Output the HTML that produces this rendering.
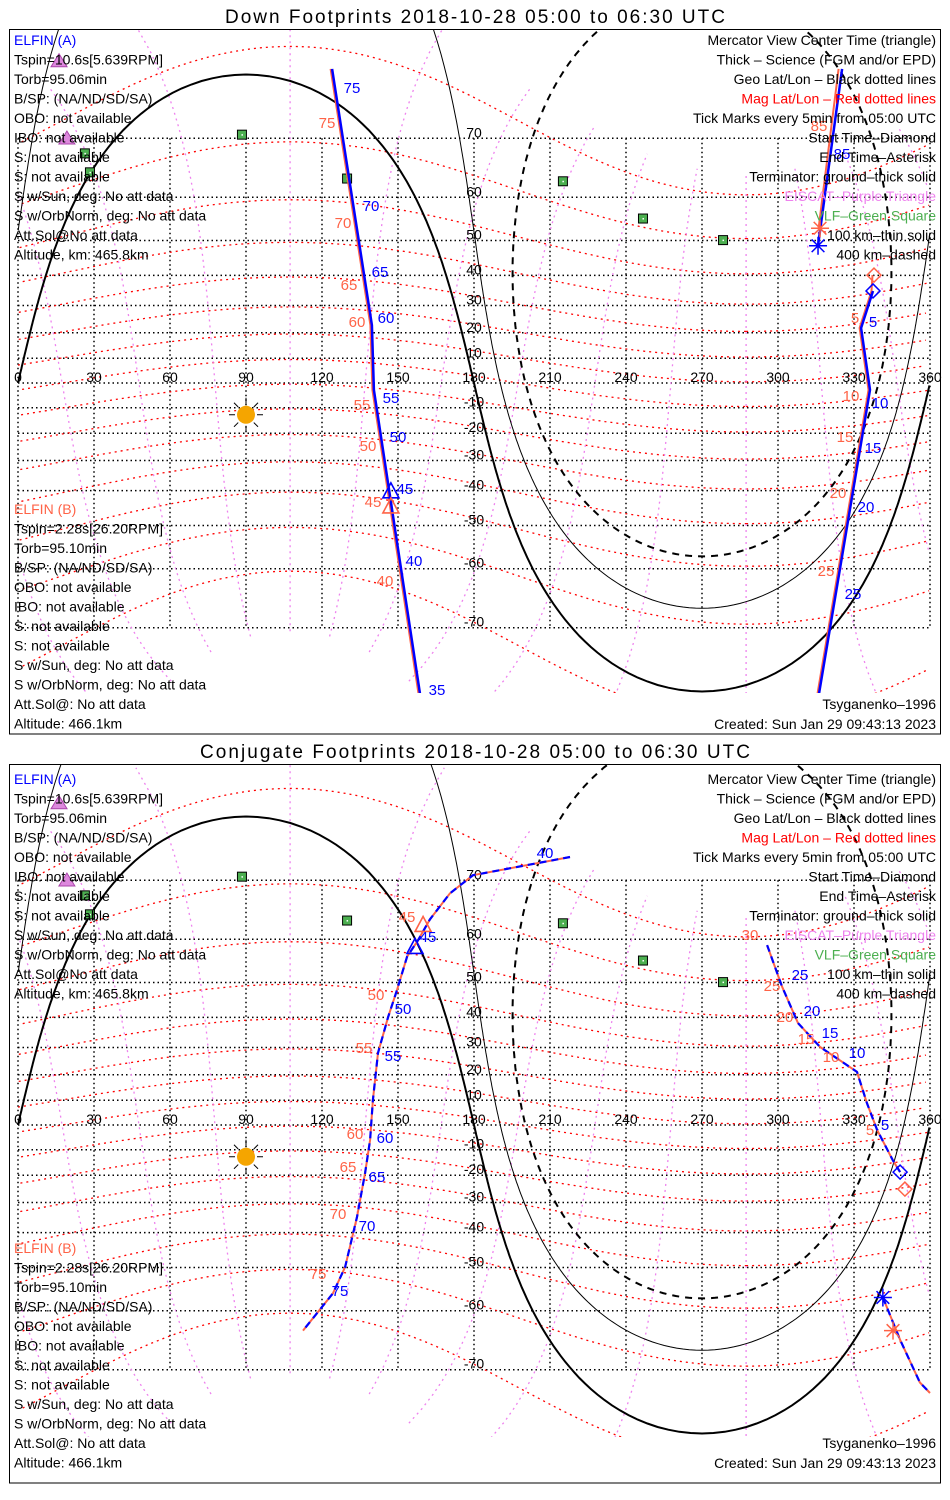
<!DOCTYPE html>
<html><head><meta charset="utf-8">
<style>
html,body{margin:0;padding:0;background:#fff;overflow:hidden;width:950px;height:1500px;}
svg{display:block;font-family:"Liberation Sans",sans-serif;}
</style></head>
<body>
<svg id="chart" width="950" height="1500" viewBox="0 0 950 1500" xmlns="http://www.w3.org/2000/svg">
<rect width="950" height="1500" fill="#fff"/>
<defs>
<clipPath id="clipTop"><rect x="10" y="30" width="930" height="663"/></clipPath>
<clipPath id="clipBot"><rect x="10" y="765" width="930" height="672"/></clipPath>
</defs>
<text x="475" y="23" text-anchor="middle" font-size="19" textLength="500">Down Footprints 2018-10-28 05:00 to 06:30 UTC</text>
<rect x="9.5" y="29.5" width="931" height="704.5" fill="none" stroke="#000" stroke-width="1"/>
<text x="475" y="758" text-anchor="middle" font-size="19" textLength="550">Conjugate Footprints 2018-10-28 05:00 to 06:30 UTC</text>
<rect x="9.5" y="764.5" width="931" height="718.5" fill="none" stroke="#000" stroke-width="1"/>
<g id="pTop"></g>
<g id="pBot"></g>
<g id="labels" font-size="15">
<g fill="#0000ff">
<text x="352" y="93" text-anchor="middle">75</text><text x="371" y="211" text-anchor="middle">70</text><text x="380" y="277" text-anchor="middle">65</text><text x="386" y="323" text-anchor="middle">60</text><text x="391" y="403" text-anchor="middle">55</text><text x="398" y="442" text-anchor="middle">50</text><text x="405" y="494" text-anchor="middle">45</text><text x="414" y="566" text-anchor="middle">40</text><text x="437" y="695" text-anchor="middle">35</text>
<text x="842" y="159" text-anchor="middle">85</text><text x="873" y="327" text-anchor="middle">5</text><text x="880" y="408" text-anchor="middle">10</text><text x="873" y="453" text-anchor="middle">15</text><text x="866" y="512" text-anchor="middle">20</text><text x="853" y="599" text-anchor="middle">25</text>
</g>
<g fill="#ff6347">
<text x="327" y="128" text-anchor="middle">75</text><text x="343" y="228" text-anchor="middle">70</text><text x="349" y="290" text-anchor="middle">65</text><text x="357" y="327" text-anchor="middle">60</text><text x="362" y="410" text-anchor="middle">55</text><text x="368" y="451" text-anchor="middle">50</text><text x="373" y="507" text-anchor="middle">45</text><text x="385" y="586" text-anchor="middle">40</text>
<text x="819" y="131" text-anchor="middle">85</text><text x="855" y="323" text-anchor="middle">5</text><text x="851" y="401" text-anchor="middle">10</text><text x="845" y="442" text-anchor="middle">15</text><text x="838" y="498" text-anchor="middle">20</text><text x="826" y="576" text-anchor="middle">25</text>
</g>
<g fill="#0000ff">
<text x="545" y="858" text-anchor="middle">40</text><text x="428" y="942" text-anchor="middle">45</text><text x="403" y="1014" text-anchor="middle">50</text><text x="393" y="1061" text-anchor="middle">55</text><text x="385" y="1143" text-anchor="middle">60</text><text x="377" y="1182" text-anchor="middle">65</text><text x="367" y="1231" text-anchor="middle">70</text><text x="340" y="1296" text-anchor="middle">75</text>
<text x="800" y="980" text-anchor="middle">25</text><text x="812" y="1016" text-anchor="middle">20</text><text x="830" y="1038" text-anchor="middle">15</text><text x="857" y="1058" text-anchor="middle">10</text><text x="885" y="1130" text-anchor="middle">5</text>
</g>
<g fill="#ff6347">
<text x="407" y="922" text-anchor="middle">45</text><text x="376" y="1000" text-anchor="middle">50</text><text x="364" y="1053" text-anchor="middle">55</text><text x="355" y="1139" text-anchor="middle">60</text><text x="348" y="1172" text-anchor="middle">65</text><text x="338" y="1219" text-anchor="middle">70</text><text x="318" y="1279" text-anchor="middle">75</text>
<text x="750" y="940" text-anchor="middle">30</text><text x="772" y="991" text-anchor="middle">25</text><text x="785" y="1022" text-anchor="middle">20</text><text x="806" y="1044" text-anchor="middle">15</text><text x="831" y="1062" text-anchor="middle">10</text><text x="870" y="1135" text-anchor="middle">5</text>
</g>
</g>
<g id="infoTop"></g>
<g id="infoBot"></g>
</svg>
<script>
const latTicks = [-70,-60,-50,-40,-30,-20,-10,0,10,20,30,40,50,60,70];
const lonTicks = [0,30,60,90,120,150,180,210,240,270,300,330,360];
const subsolarLon = 90, subsolarLat = -12.8;
const terminatorAltKm = [0, 100, 400];
const magPoleLat = 80.5, magPoleLon = 287.4;
const magLatLines = [-70,-60,-50,-40,-30,-20,-10,0,10,20,30,40,50,60,70];
const magLonLines = [0,30,60,90,120,150,180,210,240,270,300,330];
const vlfLon = [88.4,26.4,28.4,129.9,215.1,246.7,278.3];
const vlfLat = [70.5,67.8,64.7,63.6,63.1,55.4,50.1];
const eiscatLon = [16.2,19.3];
const eiscatLat = [78.3,69.9];
const downA1Lon = [124.0,139.7,140.5,158.7];
const downA1Lat = [77.7,22.9,-2.8,-77.4];
const downA2Lon = [325.3,315.8];
const downA2Lat = [77.7,48.6];
const downA3Lon = [337.5,332.8,336.3,316.2];
const downA3Lat = [35.0,21.8,-2.8,-77.4];
const downB2Lon = [324.5,316.6];
const downB2Lat = [77.7,53.1];
const downB3Lon = [337.9,337.5,332.8,336.3,316.2];
const downB3Lat = [40.1,35.0,21.8,-2.8,-77.4];
const downTriA = [147.2,-40.4], downTriB = [147.2,-44.9];
const downEndA = [315.8,48.6], downEndB = [316.6,53.1];
const downStartA = [337.5,35.0], downStartB = [337.9,40.1];
const conjW_Lon = [217.9,204.1,179.6,170.5,162.6,157.9,153.6,149.6,146.1,142.1,140.1,139.0,137.0,133.8,129.1,124.3,112.5];
const conjW_Lat = [73.0,72.2,70.7,68.1,63.8,59.8,56.3,48.0,40.1,28.1,10.1,-6.1,-19.1,-35.0,-49.9,-56.3,-63.8];
const conjE_Lon = [295.7,301.6,307.9,316.6,328.4,331.2,335.1,339.1,345.4,348.2];
const conjE_Lat = [58.8,48.9,38.2,30.2,22.9,21.1,8.9,-2.0,-14.3,-18.8];
const conjS_Lon = [341.4,348.2,356.0,360.0];
const conjS_Lat = [-57.2,-65.4,-71.7,-73.0];
const conjTriA = [156.7,58.3], conjTriB = [159.9,62.7];
const conjStartA = [348.2,-18.8], conjStartB = [350.1,-25.2];
const conjEndA = [341.4,-57.2], conjEndB = [345.4,-63.8];

const NS = "http://www.w3.org/2000/svg";
const D = Math.PI/180;
function el(tag, attrs, parent){ const e=document.createElementNS(NS,tag); for(const k in attrs) e.setAttribute(k,attrs[k]); parent.appendChild(e); return e; }
function X(lon){ return 18 + lon*912/360; }
function makeY(y0){ return function(lat){ lat=Math.max(-86,Math.min(86,lat)); return y0 - 141*Math.log(Math.tan(Math.PI/4 + lat*D/2)); }; }
function pathD(lons, lats, Y){
  let d=""; for(let i=0;i<lons.length;i++){
    const cmd = (i===0 || Math.abs(lons[i]-lons[i-1])>180) ? "M" : "L";
    d += cmd + X(lons[i]).toFixed(1) + "," + Y(lats[i]).toFixed(1) + " ";
  } return d;
}
function norm(l){ l=l%360; if(l<0) l+=360; return l; }
function mag2geo(mlat, mlon){
  const th=(90-magPoleLat)*D, lp=magPoleLon*D;
  const x=Math.cos(mlat*D)*Math.cos(mlon*D), y=Math.cos(mlat*D)*Math.sin(mlon*D), z=Math.sin(mlat*D);
  const x1=x*Math.cos(th)+z*Math.sin(th), z1=-x*Math.sin(th)+z*Math.cos(th), y1=y;
  const x2=x1*Math.cos(lp)-y1*Math.sin(lp), y2=x1*Math.sin(lp)+y1*Math.cos(lp);
  return [norm(Math.atan2(y2,x2)/D), Math.asin(Math.max(-1,Math.min(1,z1)))/D];
}
function smallCircle(cLon, cLat, r){
  const lons=[], lats=[]; const p1=cLat*D, l1=cLon*D, dd=r*D;
  for(let b=0;b<=360;b+=1){
    const t=b*D;
    const p2=Math.asin(Math.sin(p1)*Math.cos(dd)+Math.cos(p1)*Math.sin(dd)*Math.cos(t));
    const l2=l1+Math.atan2(Math.sin(t)*Math.sin(dd)*Math.cos(p1), Math.cos(dd)-Math.sin(p1)*Math.sin(p2));
    lons.push(norm(l2/D)); lats.push(p2/D);
  } return [lons,lats];
}
function asterisk(g,x,y,c,s){ let d=""; for(let a=0;a<180;a+=45){ const dx=s*Math.cos(a*D), dy=s*Math.sin(a*D); d+=`M${x-dx},${y-dy}L${x+dx},${y+dy}`; } return el("path",{d:d,stroke:c,"stroke-width":1.5,fill:"none"},g); }
function diamond(g,x,y,c){ return el("path",{d:`M${x},${y-7}L${x+7},${y}L${x},${y+7}L${x-7},${y}Z`,stroke:c,"stroke-width":1.5,fill:"none"},g); }
function triangle(g,x,y,c){ return el("path",{d:`M${x},${y-9}L${x+8},${y+6}L${x-8},${y+6}Z`,stroke:c,"stroke-width":1.6,fill:"none"},g); }

function drawPanel(g, y0, clipId, conj){
  const Y = makeY(y0);
  const m = el("g",{"clip-path":"url(#"+clipId+")"},g);
  for(const lat of latTicks){
    const l=el("line",{x1:X(0),x2:X(360),y1:Y(lat),y2:Y(lat),stroke:"#000","stroke-width":1.5,"stroke-dasharray":"1.5,3"},m);
    
    
  }
  for(const lon of lonTicks){
    const l=el("line",{x1:X(lon),x2:X(lon),y1:Y(70),y2:Y(-70),stroke:"#000","stroke-width":1.5,"stroke-dasharray":"1.5,3"},m);
    
    
  }
  for(const ml of magLatLines){
    const lo=[],la=[]; for(let k=0;k<=360;k+=2){ const p=mag2geo(ml,k); lo.push(p[0]); la.push(p[1]); }
    const p=el("path",{d:pathD(lo,la,Y),stroke:"#ff0000","stroke-width":1.3,fill:"none","stroke-dasharray":"2,4"},m);
    
    
  }
  for(const mo of magLonLines){
    const lo=[],la=[]; for(let k=-80;k<=75;k+=2){ const q=mag2geo(k,mo); lo.push(q[0]); la.push(q[1]); }
    const p=el("path",{d:pathD(lo,la,Y),stroke:"#ee82ee","stroke-width":1.3,fill:"none","stroke-dasharray":"2,4"},m);
    
    
  }
  const anLon = norm(subsolarLon+180), anLat = -subsolarLat;
  terminatorAltKm.forEach((h)=>{
    const r = 90 - Math.acos(6371/(6371+h))/D;
    const c = smallCircle(anLon, anLat, r);
    const attrs = {d:pathD(c[0],c[1],Y),stroke:"#000",fill:"none","stroke-width":h===0?2:h===100?1:2};
    if(h===400) attrs["stroke-dasharray"]="7,6";
    const p=el("path",attrs,m);
    
    
  });
  for(const lat of latTicks){ if(lat===0) continue;
    const t=el("text",{x:X(180),y:Y(lat)-1,"text-anchor":"middle","font-size":14,fill:"#000"},m); t.textContent=String(lat);
    
    
  }
  for(const lon of lonTicks){
    const t=el("text",{x:X(lon),y:Y(0)-1,"text-anchor":"middle","font-size":14,fill:"#000"},g); t.textContent=String(lon);
    
    
  }
  vlfLon.forEach((lo,i)=>{
    const s=el("rect",{x:X(lo)-4.5,y:Y(vlfLat[i])-4.5,width:9,height:9,fill:"#4caf50",stroke:"#000","stroke-width":1},m);
    
    
    el("rect",{x:X(lo)-0.5,y:Y(vlfLat[i])-0.5,width:1.5,height:1.5,fill:"#fff"},m);
  });
  eiscatLon.forEach((lo,i)=>{
    const x=X(lo), y=Y(eiscatLat[i]);
    const s=el("path",{d:`M${x},${y-8}L${x+8},${y+5}L${x-8},${y+5}Z`,fill:"#dd88dd",stroke:"#aa44aa","stroke-width":1},m);
    
    
  });
  const sx=X(subsolarLon), sy=Y(subsolarLat);
  const sun=el("g",{},m);
  
  
  let rd=""; for(let a=0;a<360;a+=45){ rd+=`M${sx+11*Math.cos(a*D)},${sy+11*Math.sin(a*D)}L${sx+17*Math.cos(a*D)},${sy+17*Math.sin(a*D)}`; }
  el("path",{d:rd,stroke:"#000","stroke-width":1},sun);
  el("circle",{cx:sx,cy:sy,r:9,fill:"#f5a500"},sun);
  if(conj){
    [[conjW_Lon,conjW_Lat],[conjE_Lon,conjE_Lat],[conjS_Lon,conjS_Lat]].forEach(t=>{
      const r=el("path",{d:pathD(t[0],t[1],Y),stroke:"#ff6347","stroke-width":2,fill:"none"},m);
      
      
      const b=el("path",{d:pathD(t[0],t[1],Y),stroke:"#0000ff","stroke-width":2.2,fill:"none","stroke-dasharray":"7,5"},m);
      
      
    });
    triangle(m,X(conjTriB[0]),Y(conjTriB[1]),"#ff6347");
    triangle(m,X(conjTriA[0]),Y(conjTriA[1]),"#0000ff");
    diamond(m,X(conjStartB[0]),Y(conjStartB[1]),"#ff6347");
    diamond(m,X(conjStartA[0]),Y(conjStartA[1]),"#0000ff");
    asterisk(m,X(conjEndA[0]),Y(conjEndA[1]),"#0000ff",9);
    asterisk(m,X(conjEndB[0]),Y(conjEndB[1]),"#ff6347",9);
  } else {
    [[downA1Lon,downA1Lat],[downB2Lon,downB2Lat],[downB3Lon,downB3Lat]].forEach(t=>{
      const r=el("path",{d:pathD(t[0],t[1],Y),stroke:"#ff6347","stroke-width":2,fill:"none",transform:"translate(-1.5,0)"},m);
      
      
    });
    [[downA1Lon,downA1Lat],[downA2Lon,downA2Lat],[downA3Lon,downA3Lat]].forEach(t=>{
      const b=el("path",{d:pathD(t[0],t[1],Y),stroke:"#0000ff","stroke-width":2.5,fill:"none"},m);
      
      
    });
    triangle(m,X(downTriA[0]),Y(downTriA[1]),"#0000ff");
    triangle(m,X(downTriB[0]),Y(downTriB[1]),"#ff6347");
    diamond(m,X(downStartB[0]),Y(downStartB[1]),"#ff6347");
    diamond(m,X(downStartA[0]),Y(downStartA[1]),"#0000ff");
    asterisk(m,X(downEndA[0]),Y(downEndA[1]),"#0000ff",9);
    asterisk(m,X(downEndB[0]),Y(downEndB[1]),"#ff6347",9);
  }
}
drawPanel(document.getElementById("pTop"), 383, "clipTop", false);
drawPanel(document.getElementById("pBot"), 1125, "clipBot", true);

const leftA = ["Tspin=10.6s[5.639RPM]","Torb=95.06min","B/SP: (NA/ND/SD/SA)","OBO: not available","IBO: not available","S: not available","S: not available","S w/Sun, deg: No att data","S w/OrbNorm, deg: No att data","Att.Sol@No att data","Altitude, km: 465.8km"];
const leftB = ["Tspin=2.28s[26.20RPM]","Torb=95.10min","B/SP: (NA/ND/SD/SA)","OBO: not available","IBO: not available","S: not available","S: not available","S w/Sun, deg: No att data","S w/OrbNorm, deg: No att data","Att.Sol@: No att data","Altitude: 466.1km"];
const rightLines = ["Mercator View Center Time (triangle)","Thick \u2013 Science (FGM and/or EPD)","Geo Lat/Lon \u2013 Black dotted lines","Mag Lat/Lon \u2013 Red dotted lines","Tick Marks every 5min from 05:00 UTC","Start Time\u2013Diamond","End Time\u2013Asterisk","Terminator: ground\u2013thick solid","EISCAT\u2013Purple Triangle","VLF\u2013Green Square","100 km\u2013thin solid","400 km\u2013dashed"];
const rightColors = ["#000","#000","#000","#ff0000","#000","#000","#000","#000","#ee82ee","#4caf50","#000","#000"];
function info(g, dy){
  function tx(x,y,s,c,anchor,name){ const t=el("text",{x:x,y:y+dy,"font-size":14,fill:c,"text-anchor":anchor},g); t.textContent=s;
    
     return t; }
  tx(14,45,"ELFIN (A)","#0000ff","start","elfin-a-heading");
  leftA.forEach((s,i)=>tx(14,64.5+i*19.5,s,"#000","start","elfin-a-info"));
  tx(14,514,"ELFIN (B)","#ff6347","start","elfin-b-heading");
  leftB.forEach((s,i)=>tx(14,533.5+i*19.5,s,"#000","start","elfin-b-info"));
  rightLines.forEach((s,i)=>tx(936,45+i*19.5,s,rightColors[i],"end","legend-entry"));
  tx(936,709,"Tsyganenko\u20131996","#000","end","model-name");
  tx(936,729,"Created: Sun Jan 29 09:43:13 2023","#000","end","created-date");
}
info(document.getElementById("infoTop"), 0);
info(document.getElementById("infoBot"), 739);
</script>
</body></html>
